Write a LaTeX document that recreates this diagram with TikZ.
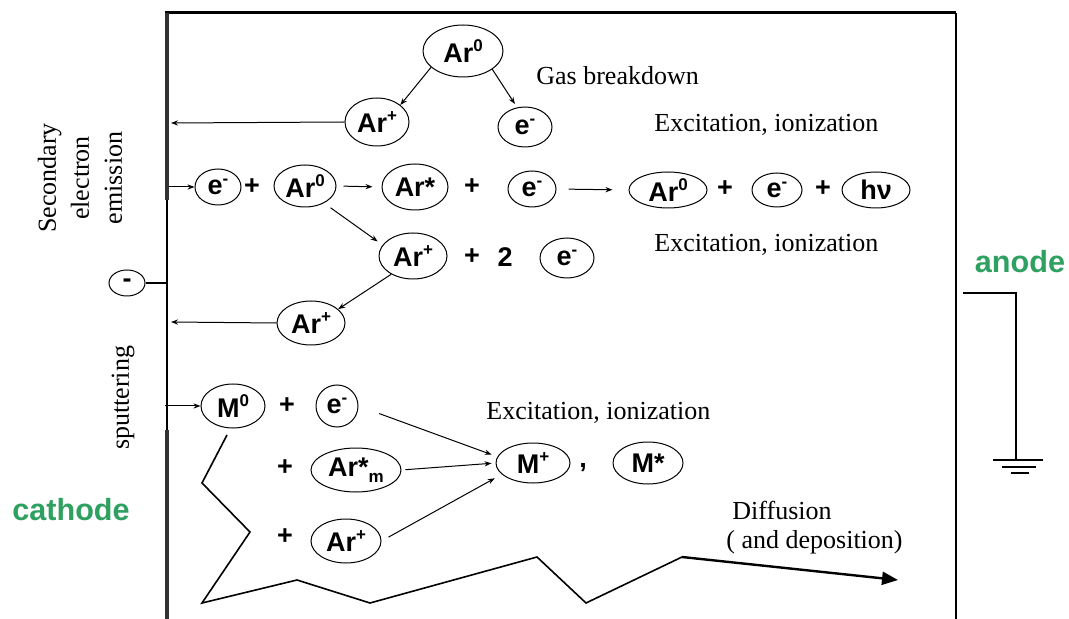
\documentclass[tikz,border=0pt]{standalone}
\usepackage{fontspec}
\setmainfont{Liberation Serif}
\newfontfamily\arialf{Liberation Sans}
\usetikzlibrary{arrows.meta,shapes.geometric}
\definecolor{elgreen}{RGB}{46,160,96}
\definecolor{cathgray}{RGB}{50,50,50}
\newcommand\upx[1]{\raisebox{0.75ex}{\fontsize{8.5}{8.5}\selectfont #1}}
\newcommand\dnx[1]{\raisebox{-0.4ex}{\fontsize{8.5}{8.5}\selectfont #1}}
\begin{document}
\begin{tikzpicture}[x=0.5pt,y=-0.5pt,
  part/.style 2 args={ellipse,draw,line width=0.5pt,inner sep=0pt,
    minimum width=#1pt,minimum height=#2pt,
    font=\arialf\bfseries\fontsize{13.5}{15}\selectfont},
  sym/.style={font=\arialf\bfseries\fontsize{13.5}{15}\selectfont,inner sep=0pt},
  lbl/.style={font=\fontsize{13}{16}\selectfont,inner sep=0pt,anchor=west},
  arr/.style={-{Stealth[length=3.5pt,width=2.6pt]},line width=0.5pt},
  electrode/.style={font=\arialf\bfseries\fontsize{15.3}{18}\selectfont,text=elgreen,inner sep=0pt}]
\useasboundingbox (0,0) rectangle (1069,619);
\fill[white] (0,0) rectangle (1069,619);

% frame and electrodes
\draw[line width=1.5pt] (165,13) -- (956,13);
\draw[line width=1.3pt] (956,13) -- (956,619);
\draw[line width=2pt,cathgray] (167,13) -- (167,200);
\draw[line width=1pt] (167,200) -- (167,430);
\draw[line width=2pt,cathgray] (167,430) -- (167,619);

% anode wire and ground
\coordinate (aw1) at (963,293);
\coordinate (aw2) at (1016,293);
\coordinate (aw3) at (1016,460);
\draw[line width=0.6pt] (aw1) -- (aw2) -- (aw3);
\draw[line width=0.6pt] (993,460) -- (1043,460);
\draw[line width=0.6pt] (1002,467) -- (1036,467);
\draw[line width=0.6pt] (1011,473) -- (1029,473);

\node[electrode] (anode) at (1020,262) {anode};
\node[electrode] (cathode) at (71,510) {cathode};

% cathode minus
\node[part={18}{13}] (minus) at (127,283) {-};
\coordinate (cm) at (167,283);
\draw[line width=0.6pt] (minus.east) -- (cm);

% side labels
\node[rotate=90,align=center,font=\fontsize{13}{16.5}\selectfont,inner sep=0pt] (sec) at (80,178) {Secondary\\electron\\emission};
\node[rotate=90,font=\fontsize{13}{16}\selectfont,inner sep=0pt] (sput) at (123,398) {sputtering};

% gas breakdown
\node[part={40}{26}] (ar0a) at (463,51) {Ar\upx{0}};
\node[part={32}{24}] (arpa) at (377,122) {Ar\upx{+}};
\node[part={27}{20}] (ea) at (525,127) {e\upx{-}};
\draw[arr] (ar0a.207) -- (arpa.36);
\draw[arr,shorten >=2pt] (ar0a.328) -- (ea.112);
\coordinate (c1) at (171,123);
\draw[arr] (arpa.west) -- (c1);
\node[lbl] (gas) at (536,76) {Gas breakdown};
\node[lbl] (exc1) at (654,125) {Excitation, ionization};

% row 2
\coordinate (c2) at (169,187);
\node[part={23}{18}] (eb) at (218,187) {e\upx{-}};
\draw[arr] (c2) -- (eb.west);
\node[sym] (p1) at (252,187) {+};
\node[part={31}{21}] (ar0b) at (305,186) {Ar\upx{0}};
\node[part={33}{23}] (arst) at (415,187) {Ar*};
\draw[arr,shorten <=3.5pt,shorten >=4.5pt] (ar0b.east) -- (arst.west);
\node[sym] (p2) at (472,187) {+};
\node[part={24}{18}] (ebb) at (532,189) {e\upx{-}};
\node[part={39}{18}] (ar0c) at (668,190) {Ar\upx{0}};
\draw[arr,shorten <=6pt,shorten >=8pt] (ebb.east) -- (ar0c.west);
\node[sym] (p3) at (725,189) {+};
\node[part={25}{17}] (ec) at (777,190) {e\upx{-}};
\node[sym] (p4) at (823,189) {+};
\node[part={34}{18}] (hv) at (876,190) {hν};

% row 3
\node[part={34}{23}] (arpb) at (413,256) {Ar\upx{+}};
\draw[arr,shorten <=4pt,shorten >=3pt] (ar0b.318) -- (arpb.160);
\node[sym] (p5) at (472,257) {+};
\node[sym] (two) at (505,257) {2};
\node[part={27}{20}] (ed3) at (567,258) {e\upx{-}};
\node[lbl] (exc2) at (654,245) {Excitation, ionization};
\node[part={34}{22}] (arpc) at (311,323) {Ar\upx{+}};
\draw[arr] (arpb.220) -- (arpc.27);
\coordinate (c3) at (171,322);
\draw[arr] (arpc.west) -- (c3);

% row 4 sputtering
\coordinate (c4) at (165,406);
\node[part={32}{22}] (m0) at (233,406) {M\upx{0}};
\draw[arr] (c4) -- (m0.west);
\node[sym] (p6) at (287,406) {+};
\node[part={21}{21}] (ed) at (337,406) {e\upx{-}};
\node[lbl] (exc3) at (486,413) {Excitation, ionization};
\node[part={37}{20}] (mp) at (533,463) {M\upx{+}};
\node[sym] (comma) at (583,468) {,};
\node[part={35}{21}] (ms) at (648,463) {M*};
\draw[arr,shorten <=11pt,shorten >=3pt] (ed.east) -- (mp.170);
\node[sym] (p7) at (285,468) {+};
\node[part={45}{22}] (arm) at (356,470) {Ar*\dnx{m}};
\draw[arr,shorten <=2pt,shorten >=2pt] (arm.east) -- (mp.west);
\node[sym] (p8) at (285,537) {+};
\node[part={35}{22}] (arpd) at (346,541) {Ar\upx{+}};
\draw[arr,shorten <=4pt,shorten >=4pt] (arpd.east) -- (mp.200);

% diffusion path
\coordinate (z0) at (227,435);
\coordinate (z1) at (202,483);
\coordinate (z2) at (250,532);
\coordinate (z3) at (202,603);
\coordinate (z4) at (297,580);
\coordinate (z5) at (370,603);
\coordinate (z6) at (537,557);
\coordinate (z7) at (586,603);
\coordinate (z8) at (682,557);
\coordinate (z9) at (898,580);
\draw[line width=0.8pt,line join=miter] (z0) -- (z1) -- (z2) -- (z3) -- (z4) -- (z5) -- (z6) -- (z7) -- (z8);
\draw[line width=1.2pt,-{Triangle[length=8pt,width=6.5pt]}] (z8) -- (z9);
\node[lbl] (diff) at (732,510) {Diffusion};
\node[lbl] (dep) at (726,542) {( and deposition)};
\end{tikzpicture}
\end{document}
